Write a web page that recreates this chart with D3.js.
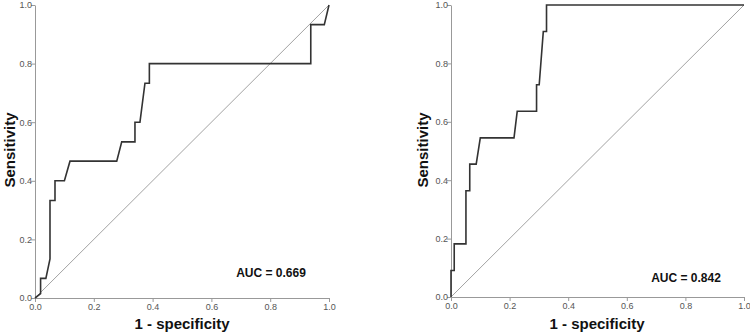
<!DOCTYPE html>
<html>
<head>
<meta charset="utf-8">
<script src="https://cdn.jsdelivr.net/npm/d3@7"></script>
<style>
  body { margin: 0; background: #fff; }
  svg { display: block; font-family: Arial, "Liberation Sans", sans-serif; }
</style>
</head>
<body>
<svg id="chart" width="750" height="333"></svg>
<script>
// ROC curve points: [1 - specificity, sensitivity]
const leftRoc = [
  [0, 0], [0.019, 0.015], [0.019, 0.067], [0.037, 0.067], [0.051, 0.133],
  [0.051, 0.333], [0.068, 0.333], [0.068, 0.4], [0.1, 0.4], [0.119, 0.467],
  [0.278, 0.467], [0.295, 0.533], [0.34, 0.533], [0.34, 0.6], [0.357, 0.6],
  [0.374, 0.733], [0.389, 0.733], [0.389, 0.8], [0.938, 0.8], [0.938, 0.933],
  [0.984, 0.933], [1, 1]
];
const rightRoc = [
  [0, 0], [0, 0.091], [0.011, 0.091], [0.011, 0.182], [0.051, 0.182],
  [0.051, 0.364], [0.064, 0.364], [0.064, 0.455], [0.086, 0.455], [0.1, 0.545],
  [0.215, 0.545], [0.226, 0.636], [0.292, 0.636], [0.292, 0.727], [0.301, 0.727],
  [0.315, 0.909], [0.326, 0.909], [0.326, 1], [1, 1]
];
const aucLabels = ['AUC = 0.669', 'AUC = 0.842'];
const tickValues = [0, 0.2, 0.4, 0.6, 0.8, 1.0];
const xTitle = '1 - specificity';
const yTitle = 'Sensitivity';

const svg = d3.select('#chart');

const panels = [
  { data: leftRoc, auc: aucLabels[0], x0: 35, x1: 329, y0: 298, y1: 5, aucX: 271, aucY: 277, yTitleX: 15, xTitleX: 182 },
  { data: rightRoc, auc: aucLabels[1], x0: 451, x1: 744, y0: 297, y1: 5, aucX: 686, aucY: 282, yTitleX: 428, xTitleX: 597 }
];

panels.forEach(p => {
  const x = d3.scaleLinear().domain([0, 1]).range([p.x0, p.x1]);
  const y = d3.scaleLinear().domain([0, 1]).range([p.y0, p.y1]);
  const g = svg.append('g');

  // reference diagonal
  g.append('line')
    .attr('x1', x(0)).attr('y1', y(0))
    .attr('x2', x(1)).attr('y2', y(1))
    .attr('stroke', '#8a8a8a')
    .attr('stroke-width', 0.8);

  // axes
  const xAxis = g.append('g')
    .attr('transform', `translate(0,${p.y0})`)
    .call(d3.axisBottom(x).tickValues(tickValues).tickFormat(d3.format('.1f')).tickSize(4).tickSizeOuter(0));
  const yAxis = g.append('g')
    .attr('transform', `translate(${p.x0},0)`)
    .call(d3.axisLeft(y).tickValues(tickValues).tickFormat(d3.format('.1f')).tickSize(4).tickSizeOuter(0));

  [xAxis, yAxis].forEach(a => {
    a.select('.domain').attr('stroke', '#999');
    a.selectAll('.tick line').attr('stroke', '#999');
    a.selectAll('.tick text')
      .attr('fill', '#555')
      .style('font-size', '9px')
      .style('font-family', 'Arial, "Liberation Sans", sans-serif');
  });
  xAxis.selectAll('.tick text').attr('dy', '0.6em');
  yAxis.selectAll('.tick text').attr('x', -3);

  // ROC curve
  g.append('path')
    .datum(p.data)
    .attr('fill', 'none')
    .attr('stroke', '#333')
    .attr('stroke-width', 1.6)
    .attr('stroke-linejoin', 'miter')
    .attr('d', d3.line().x(d => x(d[0])).y(d => y(d[1])));

  // AUC label
  g.append('text')
    .attr('x', p.aucX)
    .attr('y', p.aucY)
    .attr('text-anchor', 'middle')
    .style('font-size', '12px')
    .style('font-weight', 'bold')
    .attr('fill', '#111')
    .text(p.auc);

  // axis titles
  g.append('text')
    .attr('x', p.xTitleX)
    .attr('y', 329)
    .attr('text-anchor', 'middle')
    .style('font-size', '15px')
    .style('font-weight', 'bold')
    .attr('fill', '#111')
    .text(xTitle);

  g.append('text')
    .attr('transform', `translate(${p.yTitleX},150) rotate(-90)`)
    .attr('text-anchor', 'middle')
    .style('font-size', '15px')
    .style('font-weight', 'bold')
    .attr('fill', '#111')
    .text(yTitle);
});
</script>
</body>
</html>
